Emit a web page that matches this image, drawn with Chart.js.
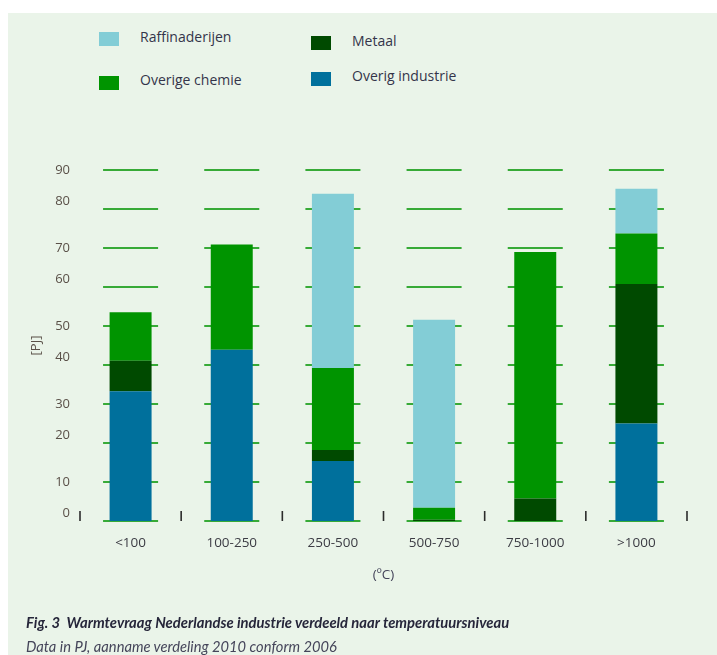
<!DOCTYPE html>
<html>
<head>
<meta charset="utf-8">
<script src="https://cdn.jsdelivr.net/npm/chart.js@4.4.1/dist/chart.umd.min.js"></script>
<style>
  html, body { margin:0; padding:0; width:717px; height:655px; overflow:hidden; background:#ffffff; }
  #panel { position:absolute; left:8px; top:13px; right:0; bottom:0; background:#eaf4e9; }
  #wrap { position:absolute; left:0; top:0; width:717px; height:655px; }
  .sw { position:absolute; width:20px; height:14px; }
  .lt { position:absolute; font-family:"Open Sans", sans-serif; font-size:14px; color:#34344a; line-height:18px; white-space:nowrap; }
  #cap1 { position:absolute; left:26px; top:613px; font-family:Lato, sans-serif; font-weight:bold; font-style:italic; font-size:14.8px; color:#26263a; white-space:nowrap; }
  #cap2 { position:absolute; left:26px; top:637px; font-family:Lato, sans-serif; font-style:italic; font-size:14.7px; color:#45455a; white-space:nowrap; }
</style>
</head>
<body>
<div id="panel"></div>
<div id="legend"></div>
<div id="wrap"><canvas id="c" width="717" height="655"></canvas></div>
<div id="cap1">Fig. 3&nbsp; Warmtevraag Nederlandse industrie verdeeld naar temperatuursniveau</div>
<div id="cap2">Data in PJ, aanname verdeling 2010 conform 2006</div>
<script>
// ---- data ----
const categories = ['<100', '100-250', '250-500', '500-750', '750-1000', '>1000'];
const overigIndustrie = [33.3, 43.9, 15.4, 0, 0, 25.0];
const metaal          = [7.8, 0, 2.8, 0.3, 5.8, 35.8];
const overigeChemie   = [12.4, 27.0, 21.0, 3.1, 63.2, 12.9];
const raffinaderijen  = [0, 0, 44.7, 48.2, 0, 11.5];
const yTicks = [0, 10, 20, 30, 40, 50, 60, 70, 80, 90];
const yTitle = '[PJ]';
const xTitle = '(ºC)';

const colors = {
  raff: '#83cdd6',
  metaal: '#004a00',
  chemie: '#009400',
  industrie: '#00709c'
};

// ---- HTML legend (2x2, real text) ----
const legendItems = [
  { label: 'Raffinaderijen',   color: colors.raff,      sx: 99,  sy: 32, tx: 140, ty: 28 },
  { label: 'Metaal',           color: colors.metaal,    sx: 311, sy: 36, tx: 352, ty: 32 },
  { label: 'Overige chemie',   color: colors.chemie,    sx: 99,  sy: 76, tx: 140, ty: 71 },
  { label: 'Overig industrie', color: colors.industrie, sx: 311, sy: 72, tx: 352, ty: 67 }
];
const legendEl = document.getElementById('legend');
legendItems.forEach(it => {
  const s = document.createElement('div');
  s.className = 'sw';
  s.style.left = it.sx + 'px'; s.style.top = it.sy + 'px'; s.style.background = it.color;
  legendEl.appendChild(s);
  const t = document.createElement('div');
  t.className = 'lt';
  t.style.left = it.tx + 'px'; t.style.top = it.ty + 'px';
  t.textContent = it.label;
  legendEl.appendChild(t);
});

// ---- plugin: short green grid segments per category + boundary tick marks ----
const segGrid = {
  id: 'segGrid',
  beforeDatasetsDraw(chart) {
    const { ctx, scales: { x, y } } = chart;
    const catW = x.getPixelForValue(1) - x.getPixelForValue(0);
    ctx.save();
    ctx.strokeStyle = '#37aa37';
    ctx.lineWidth = 2;
    y.ticks.forEach(t => {
      const py = Math.round(y.getPixelForValue(t.value));
      categories.forEach((c, i) => {
        const cx = x.getPixelForValue(i);
        ctx.beginPath();
        ctx.moveTo(cx - catW * 0.272, py);
        ctx.lineTo(cx + catW * 0.272, py);
        ctx.stroke();
      });
    });
    const base = y.getPixelForValue(0);
    ctx.strokeStyle = '#2b2b2b';
    ctx.lineWidth = 1.6;
    for (let i = 0; i <= categories.length; i++) {
      const bx = x.getPixelForValue(0) + (i - 0.5) * catW;
      ctx.beginPath();
      ctx.moveTo(bx, base - 10);
      ctx.lineTo(bx, base);
      ctx.stroke();
    }
    ctx.restore();
  }
};

Chart.defaults.font.family = '"Open Sans", sans-serif';

new Chart(document.getElementById('c'), {
  type: 'bar',
  data: {
    labels: categories,
    datasets: [
      { label: 'Overig industrie', data: overigIndustrie, backgroundColor: colors.industrie },
      { label: 'Metaal',           data: metaal,          backgroundColor: colors.metaal },
      { label: 'Overige chemie',   data: overigeChemie,   backgroundColor: colors.chemie },
      { label: 'Raffinaderijen',   data: raffinaderijen,  backgroundColor: colors.raff }
    ]
  },
  options: {
    responsive: false,
    animation: false,
    devicePixelRatio: 1,
    layout: { padding: { top: 170, right: 30, left: 0, bottom: 0 } },
    datasets: { bar: { categoryPercentage: 1, barPercentage: 0.415, borderWidth: 0 } },
    plugins: { legend: { display: false }, tooltip: { enabled: false } },
    scales: {
      x: {
        stacked: true,
        offset: true,
        grid: { display: false, drawTicks: false },
        border: { display: false },
        ticks: { padding: 14, color: '#3c3c44', font: { size: 13.5 } },
        title: { display: true, text: xTitle, color: '#44445a', font: { size: 13.5 }, padding: { top: 0, bottom: 72 } },
        afterFit(scale) { scale.height = 134; }
      },
      y: {
        stacked: true,
        min: 0,
        max: 90,
        afterBuildTicks(scale) { scale.ticks = yTicks.map(v => ({ value: v })); },
        grid: { display: false, drawTicks: false },
        border: { display: false },
        ticks: {
          padding: 10,
          color: '#5a5048',
          font: { size: 13, lineHeight: 1.17 },
          callback: (v, i) => (i % 2 === 0 ? [String(v), ''] : String(v))
        },
        title: { display: true, text: yTitle, color: '#5a5048', font: { size: 13 }, padding: { top: 28, bottom: 0 } },
        afterFit(scale) { scale.width = 80; }
      }
    }
  },
  plugins: [segGrid]
});
</script>
</body>
</html>
